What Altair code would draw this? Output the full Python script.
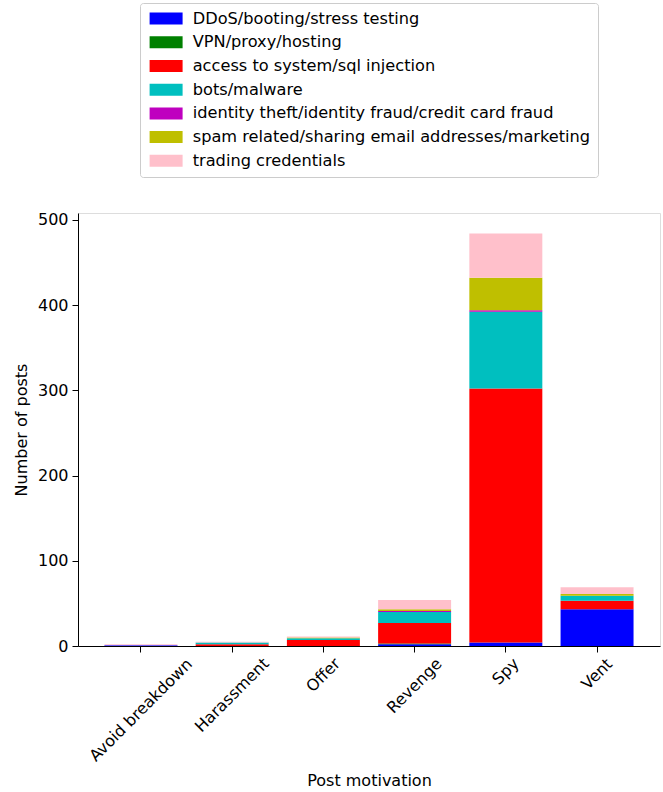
import altair as alt
import pandas as pd

motivations = ["Avoid breakdown", "Harassment", "Offer", "Revenge", "Spy", "Vent"]
categories = [
    "DDoS/booting/stress testing",
    "VPN/proxy/hosting",
    "access to system/sql injection",
    "bots/malware",
    "identity theft/identity fraud/credit card fraud",
    "spam related/sharing email addresses/marketing",
    "trading credentials",
]
colors = ["#0000ff", "#008000", "#ff0000", "#00bfbf", "#bf00bf", "#bfbf00", "#ffc0cb"]

ddos = [1, 0, 0, 2, 4, 43]
vpn = [0, 0, 0, 1, 0, 0]
access = [0, 2, 7, 24, 298, 10]
bots = [0, 2, 2, 13, 90, 6]
identity = [0, 0, 0, 1, 2, 0]
spam = [0, 0, 1, 2, 38, 2]
trading = [1, 1, 1, 11, 52, 8]

series = [ddos, vpn, access, bots, identity, spam, trading]

rows = []
for ci, (cat, vals) in enumerate(zip(categories, series)):
    for m, v in zip(motivations, vals):
        rows.append({"motivation": m, "category": cat, "count": v, "idx": ci})
df = pd.DataFrame(rows)

# approximate DejaVu Sans glyph widths (em) to center rotated labels like matplotlib
W = {'A': 0.684, 'v': 0.592, 'o': 0.612, 'i': 0.278, 'd': 0.635, ' ': 0.318, 'b': 0.635,
     'r': 0.411, 'e': 0.615, 'a': 0.613, 'k': 0.579, 'w': 0.818, 'n': 0.634, 'H': 0.752,
     's': 0.521, 'm': 0.974, 't': 0.392, 'O': 0.787, 'f': 0.352, 'R': 0.695, 'g': 0.635,
     'S': 0.635, 'p': 0.635, 'y': 0.592, 'V': 0.684}
FS = 16
lab_df = pd.DataFrame({
    "motivation": motivations,
    "off": [8.5 + (sum(W.get(c, 0.6) for c in m) * FS + 18.6) * 0.7071 / 2 for m in motivations],
})

FONT = "DejaVu Sans"
# wide rectangle drawn to the right of a small nominal symbol (12px)
rect_path = "M-1,-1 L4.5,-1 L4.5,1 L-1,1 Z"

xscale = alt.Scale(paddingInner=0.2, paddingOuter=0.29)

bars = alt.Chart(df).mark_bar().encode(
    x=alt.X("motivation:N", sort=motivations, scale=xscale,
            axis=alt.Axis(labels=False, title="Post motivation", titleY=134,
                          titleBaseline="middle", tickSize=6, tickColor="black",
                          domainColor="black", titleFont=FONT, titleFontSize=FS,
                          titleFontWeight="normal", titleColor="black")),
    y=alt.Y("count:Q", stack="zero",
            scale=alt.Scale(domain=[0, 508], nice=False),
            axis=alt.Axis(values=[0, 100, 200, 300, 400, 500], title="Number of posts",
                          grid=False, tickSize=6, tickColor="black", domainColor="black",
                          labelFont=FONT, labelFontSize=FS, labelColor="black", labelPadding=4,
                          titleFont=FONT, titleFontSize=FS, titleFontWeight="normal",
                          titleColor="black", titlePadding=8)),
    color=alt.Color("category:N", sort=categories,
                    scale=alt.Scale(domain=categories, range=colors),
                    legend=alt.Legend(title=None, orient="none", legendX=62, legendY=-210,
                                      symbolType=rect_path, symbolSize=144,
                                      symbolStrokeWidth=0, labelFont=FONT, labelFontSize=16.2,
                                      labelColor="black", labelOffset=29, rowPadding=6.7,
                                      padding=7.5, strokeColor="#cccccc", cornerRadius=3,
                                      fillColor="white", labelLimit=600)),
    order=alt.Order("idx:Q", sort="ascending"),
)

labels = alt.Chart(lab_df).mark_text(angle=315, align="center", baseline="middle",
                                     font=FONT, fontSize=FS, color="black").encode(
    x=alt.X("motivation:N", sort=motivations, scale=xscale),
    y=alt.datum(0),
    yOffset=alt.YOffset("off:Q", scale=None),
    text="motivation:N",
)

chart = alt.layer(bars, labels).properties(
    width=582, height=433,
    padding={"left": 78, "top": 213, "right": 3, "bottom": 146},
    autosize=alt.AutoSizeParams(type="none"),
).configure_view(stroke="black", strokeWidth=1).configure(background="white")

chart.save("out.html", embed_options={"renderer": "svg", "actions": False})
